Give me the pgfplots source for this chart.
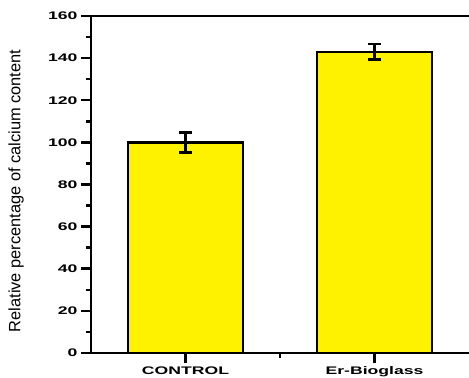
\documentclass[border=0pt]{standalone}
\usepackage{pgfplots}
\pgfplotsset{compat=1.18}
\usepackage{graphicx}
\usepackage{fontspec}
\setmainfont{Liberation Sans}
\begin{document}
\begin{tikzpicture}
\useasboundingbox (0,0) rectangle (469bp,378bp);
\begin{axis}[
  at={(91bp,25bp)}, anchor=south west,
  scale only axis, width=378bp, height=337bp,
  xmin=-0.5, xmax=1.5, ymin=0, ymax=160,
  axis x line*=bottom, axis y line*=left,
  axis line style={-, line width=2.5bp},
  xtick={0,1}, minor xtick={0.5},
  xticklabels={\scalebox{1.6}[1]{CONTROL},\scalebox{1.6}[1]{Er-Bioglass}},
  ytick={0,20,...,160}, minor ytick={10,30,...,150},
  yticklabel={\scalebox{1.6}[1]{\pgfmathprintnumber{\tick}}},
  /pgf/number format/assume math mode=true,
  tick align=outside,
  major tick length=10bp, minor tick length=5bp,
  tick style={line width=2.5bp, black},
  ticklabel style={font=\fontsize{11bp}{13bp}\selectfont\bfseries},
  ylabel={Relative percentage of calcium content},
  ylabel style={at={(axis description cs:-0.198,0.481)}, anchor=center, rotate=0,
    font=\fontsize{16.4bp}{19bp}\selectfont},
  clip=false,
]
\addplot[ybar, bar width=115bp, bar shift=0pt, fill=yellow, draw=black, line width=2.5bp,
  error bars/.cd, y dir=both, y explicit,
  error bar style={line width=2.5bp, black},
  error mark options={rotate=90, mark size=6.5bp, line width=2.5bp, black}]
  coordinates {(0,100) +- (0,4.7) (1,143) +- (0,3.6)};
\draw[line width=2.5bp] (rel axis cs:0,1) -- (rel axis cs:1,1);
\end{axis}
\end{tikzpicture}
\end{document}
